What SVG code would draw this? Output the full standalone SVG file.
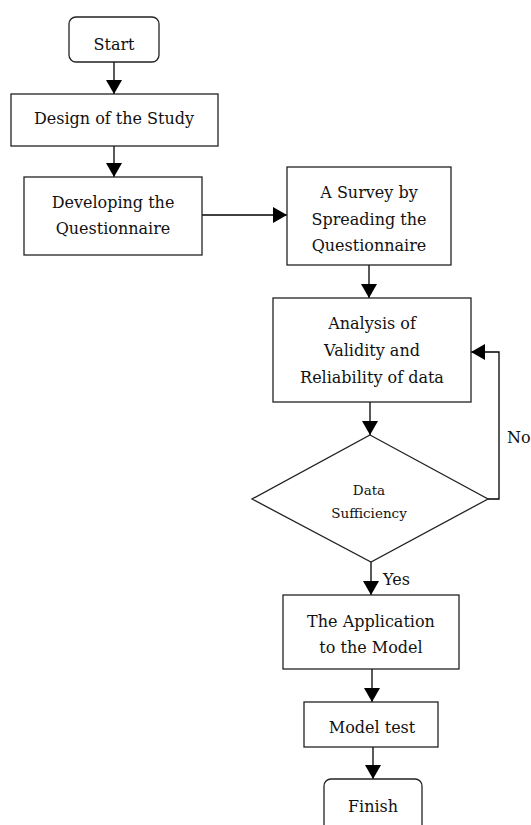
<svg xmlns="http://www.w3.org/2000/svg" width="531" height="825" viewBox="0 0 531 825">
<style>
.box{fill:#fff;stroke:#222;stroke-width:1.3}
.t{font-family:"DejaVu Serif","Liberation Serif",serif;font-size:16px;fill:#111;text-anchor:middle}
.s{font-family:"DejaVu Serif","Liberation Serif",serif;font-size:13.5px;fill:#111;text-anchor:middle}
.l{font-family:"DejaVu Serif","Liberation Serif",serif;font-size:16px;fill:#111;text-anchor:start}
.c{fill:none;stroke:#000;stroke-width:1.3}
</style>
<defs>
<marker id="ah" viewBox="0 0 14 16" refX="14" refY="8" markerWidth="14" markerHeight="16" markerUnits="userSpaceOnUse" orient="auto">
<path d="M0,0 L14,8 L0,16 Z" fill="#000"/>
</marker>
</defs>
<rect width="531" height="825" fill="#fff"/>
<g id="connectors">
<line class="c" x1="114" y1="62" x2="114" y2="94" marker-end="url(#ah)"/>
<line class="c" x1="114" y1="146" x2="114" y2="177" marker-end="url(#ah)"/>
<line class="c" x1="202" y1="215" x2="287" y2="215" marker-end="url(#ah)"/>
<line class="c" x1="369" y1="265" x2="369" y2="298" marker-end="url(#ah)"/>
<line class="c" x1="370" y1="402" x2="370" y2="435" marker-end="url(#ah)"/>
<polyline class="c" points="488,499 499,499 499,352 471,352" marker-end="url(#ah)"/>
<line class="c" x1="371" y1="562" x2="371" y2="595" marker-end="url(#ah)"/>
<line class="c" x1="372" y1="669" x2="372" y2="702" marker-end="url(#ah)"/>
<line class="c" x1="373" y1="747" x2="373" y2="779" marker-end="url(#ah)"/>
<text class="l" x="507" y="443">No</text>
<text class="l" x="383" y="585">Yes</text>
</g>
<g id="start">
<rect class="box" x="69" y="17" width="90" height="45" rx="7"/>
<text class="t" x="114" y="50">Start</text>
</g>
<g id="design">
<rect class="box" x="11" y="94" width="207" height="52"/>
<text class="t" x="114" y="124">Design of the Study</text>
</g>
<g id="developing">
<rect class="box" x="24" y="177" width="178" height="78"/>
<text class="t" x="113" y="208">Developing the</text>
<text class="t" x="113" y="234">Questionnaire</text>
</g>
<g id="survey">
<rect class="box" x="287" y="167" width="164" height="98"/>
<text class="t" x="369" y="198">A Survey by</text>
<text class="t" x="369" y="225">Spreading the</text>
<text class="t" x="369" y="251">Questionnaire</text>
</g>
<g id="analysis">
<rect class="box" x="273" y="298" width="198" height="104"/>
<text class="t" x="372" y="329">Analysis of</text>
<text class="t" x="372" y="356">Validity and</text>
<text class="t" x="372" y="383">Reliability of data</text>
</g>
<g id="sufficiency">
<polygon class="box" points="370,435 488,499 371,562 252,499"/>
<text class="s" x="369" y="495">Data</text>
<text class="s" x="369" y="518">Sufficiency</text>
</g>
<g id="application">
<rect class="box" x="283" y="595" width="176" height="74"/>
<text class="t" x="371" y="627">The Application</text>
<text class="t" x="371" y="653">to the Model</text>
</g>
<g id="modeltest">
<rect class="box" x="304" y="702" width="134" height="45"/>
<text class="t" x="372" y="733">Model test</text>
</g>
<g id="finish">
<rect class="box" x="324" y="779" width="98" height="60" rx="7"/>
<text class="t" x="373" y="812">Finish</text>
</g>
</svg>
